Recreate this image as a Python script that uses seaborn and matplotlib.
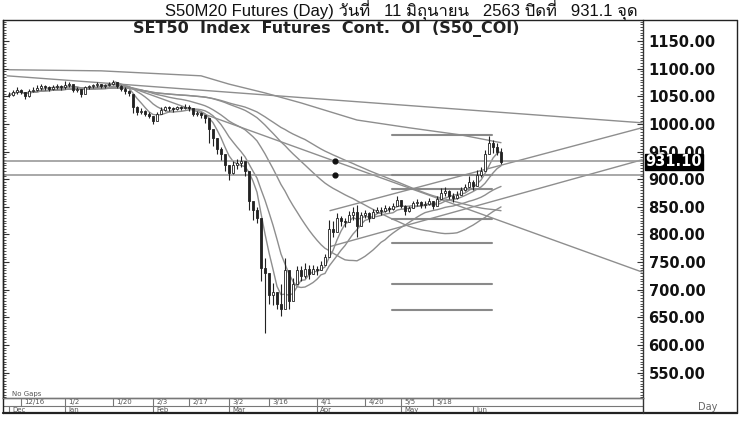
import pandas as pd
import matplotlib
matplotlib.use("Agg")
import matplotlib.pyplot as plt
import seaborn as sns
from matplotlib import font_manager
from matplotlib.ticker import MultipleLocator
from matplotlib.lines import Line2D
from fontTools.ttLib import TTFont

# trading days shown on the chart (SET holidays taken out)
holidays = ["2019-12-31", "2020-01-01", "2020-02-10", "2020-04-06",
            "2020-05-01", "2020-05-04", "2020-05-06", "2020-06-03"]
dates = pd.bdate_range("2019-12-11", "2020-06-11")
dates = dates[~dates.isin(pd.to_datetime(holidays))]

close = [1052, 1058, 1062, 1057, 1050, 1060, 1062, 1065, 1068, 1066,
         1064, 1067, 1068, 1066, 1070, 1072, 1062, 1064, 1054, 1066,
         1068, 1070, 1072, 1068, 1070, 1073, 1075, 1068, 1064, 1060,
         1055, 1030, 1022, 1024, 1018, 1015, 1006, 1018, 1026, 1030,
         1028, 1027, 1030, 1029, 1031, 1028, 1018, 1020, 1016, 1010,
         990, 975, 955, 945, 925, 912, 925, 930, 932, 915,
         860, 845, 830, 740, 730, 690, 695, 675, 665, 735,
         680, 710, 735, 725, 738, 728, 738, 735, 745, 760,
         810, 805, 830, 825, 822, 835, 840, 815, 835, 838,
         830, 840, 845, 843, 848, 846, 852, 862, 852, 842,
         848, 856, 858, 853, 855, 860, 852, 865, 875, 878,
         870, 866, 872, 880, 886, 895, 888, 908, 915, 945,
         965, 958, 950, 931.1]
high = [1058, 1062, 1066, 1064, 1058, 1063, 1066, 1070, 1072, 1070,
        1068, 1070, 1072, 1070, 1078, 1075, 1068, 1067, 1062, 1068,
        1071, 1073, 1075, 1073, 1072, 1076, 1080, 1076, 1070, 1066,
        1062, 1045, 1032, 1028, 1026, 1022, 1015, 1022, 1030, 1033,
        1032, 1031, 1033, 1032, 1036, 1034, 1026, 1024, 1021, 1016,
        1005, 985, 975, 958, 940, 925, 932, 936, 942, 925,
        880, 855, 850, 780, 758, 730, 712, 693, 710, 758,
        716, 722, 742, 742, 748, 744, 745, 742, 752, 765,
        826, 825, 838, 834, 830, 842, 850, 853, 840, 845,
        840, 846, 850, 850, 853, 852, 856, 870, 862, 853,
        852, 860, 864, 860, 860, 866, 860, 870, 884, 886,
        880, 875, 878, 886, 892, 905, 898, 916, 922, 953,
        978, 970, 966, 956]
low = [1048, 1050, 1055, 1054, 1045, 1049, 1057, 1060, 1062, 1062,
       1060, 1062, 1064, 1062, 1064, 1066, 1058, 1058, 1048, 1056,
       1064, 1065, 1067, 1065, 1065, 1068, 1070, 1065, 1060, 1055,
       1050, 1020, 1017, 1018, 1014, 1010, 1000, 1008, 1018, 1024,
       1024, 1022, 1025, 1025, 1027, 1024, 1014, 1015, 1010, 1002,
       965, 960, 945, 935, 915, 898, 910, 918, 922, 905,
       845, 826, 820, 716, 622, 675, 672, 665, 652, 700,
       665, 690, 712, 716, 722, 720, 728, 726, 736, 748,
       790, 795, 807, 815, 814, 824, 826, 796, 822, 830,
       822, 832, 838, 836, 840, 840, 844, 852, 848, 836,
       840, 848, 852, 848, 848, 853, 846, 855, 866, 870,
       864, 858, 864, 872, 878, 885, 880, 895, 904, 928,
       945, 948, 944, 928]

# slow average line (day index, value)
slow_ma_day = [0, 23, 48, 55, 64, 73, 87, 100, 113, 123]
slow_ma_val = [1098, 1096, 1087, 1072, 1056, 1038, 1007, 993, 980, 966]

# trend lines (day index pairs, value pairs)
trend_lines = {
    "t1": ([-0.5, 158.25], [1087, 1002]),
    "t2": ([80.25, 158.25], [843, 993]),
    "t3": ([80.25, 158.25], [778, 935]),
    "t4": ([26.5, 158.25], [1076, 732]),
}
full_levels = [933, 908]
dot_day = 81.5
fib_levels = [980, 908, 882, 828, 785, 711, 664]
fib_span = [95.75, 120.75]

date_ticks = ["2019-12-16", "2020-01-02", "2020-01-20", "2020-02-03", "2020-02-17",
              "2020-03-02", "2020-03-16", "2020-04-01", "2020-04-20", "2020-05-05",
              "2020-05-18"]
date_labels = ["12/16", "1/2", "1/20", "2/3", "2/17", "3/2", "3/16", "4/1",
               "4/20", "5/5", "5/18"]
month_labels = ["Dec", "Jan", "Feb", "Mar", "Apr", "May", "Jun"]
last_close = 931.10

# find a font that has Thai glyphs
thai_font = None
for f in font_manager.fontManager.ttflist:
    try:
        cmap = TTFont(f.fname, fontNumber=0, lazy=True).getBestCmap()
    except Exception:
        continue
    if cmap and 0x0E27 in cmap:
        thai_font = f.name
        break

sns.set_style("white")
plt.rcParams["font.family"] = ["DejaVu Sans"]

df = pd.DataFrame({"day": range(len(close)), "close": close, "high": high, "low": low})
for n in [5, 10, 25, 50, 75]:
    df[f"ma{n}"] = df["close"].rolling(n, min_periods=1).mean()

W, H = 750, 422
fig = plt.figure(figsize=(7.5, 4.22), dpi=100)
ax = fig.add_axes([3 / W, (H - 398) / H, 640 / W, 378 / H])
dax = fig.add_axes([3 / W, (H - 413) / H, 640 / W, 15 / H])

line_col = "#8e8e8e"
for n in [75, 50, 25, 10, 5]:
    sns.lineplot(data=df, x="day", y=f"ma{n}", ax=ax, color=line_col, lw=1.0)
sns.lineplot(x=slow_ma_day, y=slow_ma_val, ax=ax, color=line_col, lw=1.0)

for xs, ys in trend_lines.values():
    ax.plot(xs, ys, color=line_col, lw=1.0)
for lv in full_levels:
    ax.axhline(lv, color="#9a9a9a", lw=1.2)
ax.scatter([dot_day] * len(full_levels), full_levels, s=12, color="#111", zorder=5)
for lv in fib_levels:
    ax.plot(fib_span, [lv, lv], color="#8a8a8a", lw=1.5)

# candles
opens = [close[0]] + close[:-1]
for i in range(len(close)):
    ax.vlines(i, low[i], high[i], color="#222", lw=0.8, zorder=4)
    up = close[i] >= opens[i]
    ax.bar(i, close[i] - opens[i], bottom=opens[i], width=0.6,
           color="white" if up else "#222", edgecolor="#222", lw=0.6, zorder=4)

ax.set_xlim(-1.5, 158.5)
ax.set_ylim(504, 1188)
ax.set_xlabel("")
ax.set_ylabel("")
ax.set_xticks([])
ax.set_yticks(range(550, 1151, 50))
ax.yaxis.set_minor_locator(MultipleLocator(5))
ax.yaxis.tick_right()
ax.tick_params(axis="y", which="both", left=True, right=True, direction="in", colors="#333")
ax.tick_params(axis="y", which="major", length=4, pad=4, labelsize=10.5, labelcolor="#111")
ax.tick_params(axis="y", which="minor", length=2)
ax.set_yticklabels([f"{v:.2f}" for v in range(550, 1151, 50)], fontweight="bold")
for s in ax.spines.values():
    s.set_color("#333")
    s.set_linewidth(1.0)
ax.spines["top"].set_visible(False)

ax.text(1.004, last_close, f"{last_close:.2f}", transform=ax.get_yaxis_transform(),
        ha="left", va="center", color="white", fontsize=10.5, fontweight="bold",
        bbox=dict(facecolor="black", edgecolor="black", pad=0.3), zorder=10, clip_on=False)

# date strip
dax.set_xlim(-1.5, 158.5)
dax.set_ylim(0, 1)
dax.axis("off")
dax.axhline(0.47, color="#777", lw=0.8)
for d, lab in zip(date_ticks, date_labels):
    i = dates.get_loc(pd.Timestamp(d))
    dax.plot([i, i], [0.47, 1], color="#777", lw=0.8)
    dax.text(i + 0.8, 0.74, lab, fontsize=5, color="#555", va="center")
month_start = pd.Series(range(len(dates)), index=dates).groupby(dates.to_period("M")).min()
for i, lab in zip(month_start.values, month_labels):
    dax.plot([i, i], [0, 0.47], color="#777", lw=0.8)
    dax.text(i + 0.8, 0.22, lab, fontsize=5, color="#555", va="center")

# outer frame
def fig_line(x0, y0, x1, y1, lw=1.0, col="#222"):
    fig.add_artist(Line2D([x0 / W, x1 / W], [1 - y0 / H, 1 - y1 / H], color=col, lw=lw))

fig_line(3, 20, 737, 20)
fig_line(737, 20, 737, 413)
fig_line(3, 413, 737, 413, lw=1.6)
fig_line(3, 20, 3, 413)
fig_line(643, 398, 643, 413, col="#333")
fig_line(3, 398, 643, 398, col="#777", lw=0.8)

fig.text(12 / W, 1 - 394 / H, "No Gaps", fontsize=5, color="#555", va="center")
fig.text(708 / W, 1 - 407 / H, "Day", fontsize=7, color="#666", ha="center", va="center")

fig.text(326 / W, 1 - 33 / H, "SET50  Index  Futures  Cont.  OI  (S50_COI)",
         fontsize=11.5, fontweight="bold", ha="center", va="baseline", color="#222")
title_fonts = ["Liberation Sans"] + ([thai_font] if thai_font else []) + ["DejaVu Sans"]
fig.text(401 / W, 1 - 16 / H,
         "S50M20 Futures (Day) วันที่   11 มิถุนายน   2563 ปิดที่   931.1 จุด",
         fontsize=12, ha="center", va="baseline", color="#111", family=title_fonts)

fig.savefig("out.png", dpi=100)
